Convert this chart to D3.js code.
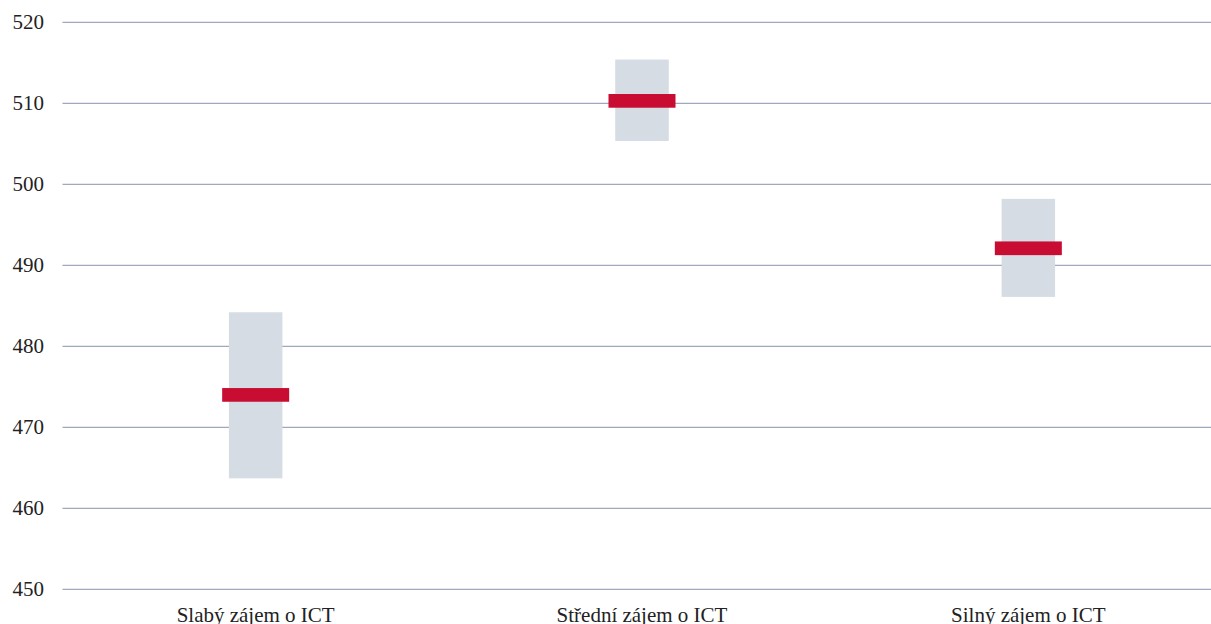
<!DOCTYPE html>
<html>
<head>
<meta charset="utf-8">
<title>Zájem o ICT</title>
<script src="https://d3js.org/d3.v7.min.js"></script>
<style>
  body { margin: 0; background: #fff; }
  text { font-family: "Liberation Serif", "Times New Roman", serif; fill: #222; }
</style>
</head>
<body>
<svg id="chart"></svg>
<script>
const categories = ["Slabý zájem o ICT", "Střední zájem o ICT", "Silný zájem o ICT"];
const means = [474.0, 510.3, 492.1];
const lower = [463.7, 505.35, 486.1];
const upper = [484.2, 515.4, 498.2];
const yTicks = [450, 460, 470, 480, 490, 500, 510, 520];

const width = 1211, height = 624;
const svg = d3.select("#chart").attr("width", width).attr("height", height);

const x = d3.scaleBand().domain(categories).range([62.5, 1221.5]);
const y = d3.scaleLinear().domain([450, 520]).range([589.3, 22.3]);

// gridlines
svg.append("g").selectAll("line")
  .data(yTicks)
  .enter().append("line")
  .attr("x1", 62.5).attr("x2", 1221.5)
  .attr("y1", d => y(d)).attr("y2", d => y(d))
  .attr("stroke", "#9ea9bd")
  .attr("stroke-width", 1.3);

// y labels
svg.append("g").selectAll("text")
  .data(yTicks)
  .enter().append("text")
  .attr("x", 44)
  .attr("y", d => y(d))
  .attr("dy", "0.34em")
  .attr("text-anchor", "end")
  .style("font-size", "21px")
  .text(d => d);

const data = categories.map((c, i) => ({ c, m: means[i], lo: lower[i], hi: upper[i] }));
const grayW = 53.5, redW = 67, redH = 13.7;

svg.append("g").selectAll("rect")
  .data(data)
  .enter().append("rect")
  .attr("x", d => x(d.c) + x.bandwidth() / 2 - grayW / 2)
  .attr("width", grayW)
  .attr("y", d => y(d.hi))
  .attr("height", d => y(d.lo) - y(d.hi))
  .attr("fill", "#d5dce4");

svg.append("g").selectAll("rect")
  .data(data)
  .enter().append("rect")
  .attr("x", d => x(d.c) + x.bandwidth() / 2 - redW / 2)
  .attr("width", redW)
  .attr("y", d => y(d.m) - redH / 2)
  .attr("height", redH)
  .attr("fill", "#c80c32");

// category labels
svg.append("g").selectAll("text")
  .data(categories)
  .enter().append("text")
  .attr("x", d => x(d) + x.bandwidth() / 2)
  .attr("y", 621.5)
  .attr("text-anchor", "middle")
  .style("font-size", "21px")
  .text(d => d);
</script>
</body>
</html>
